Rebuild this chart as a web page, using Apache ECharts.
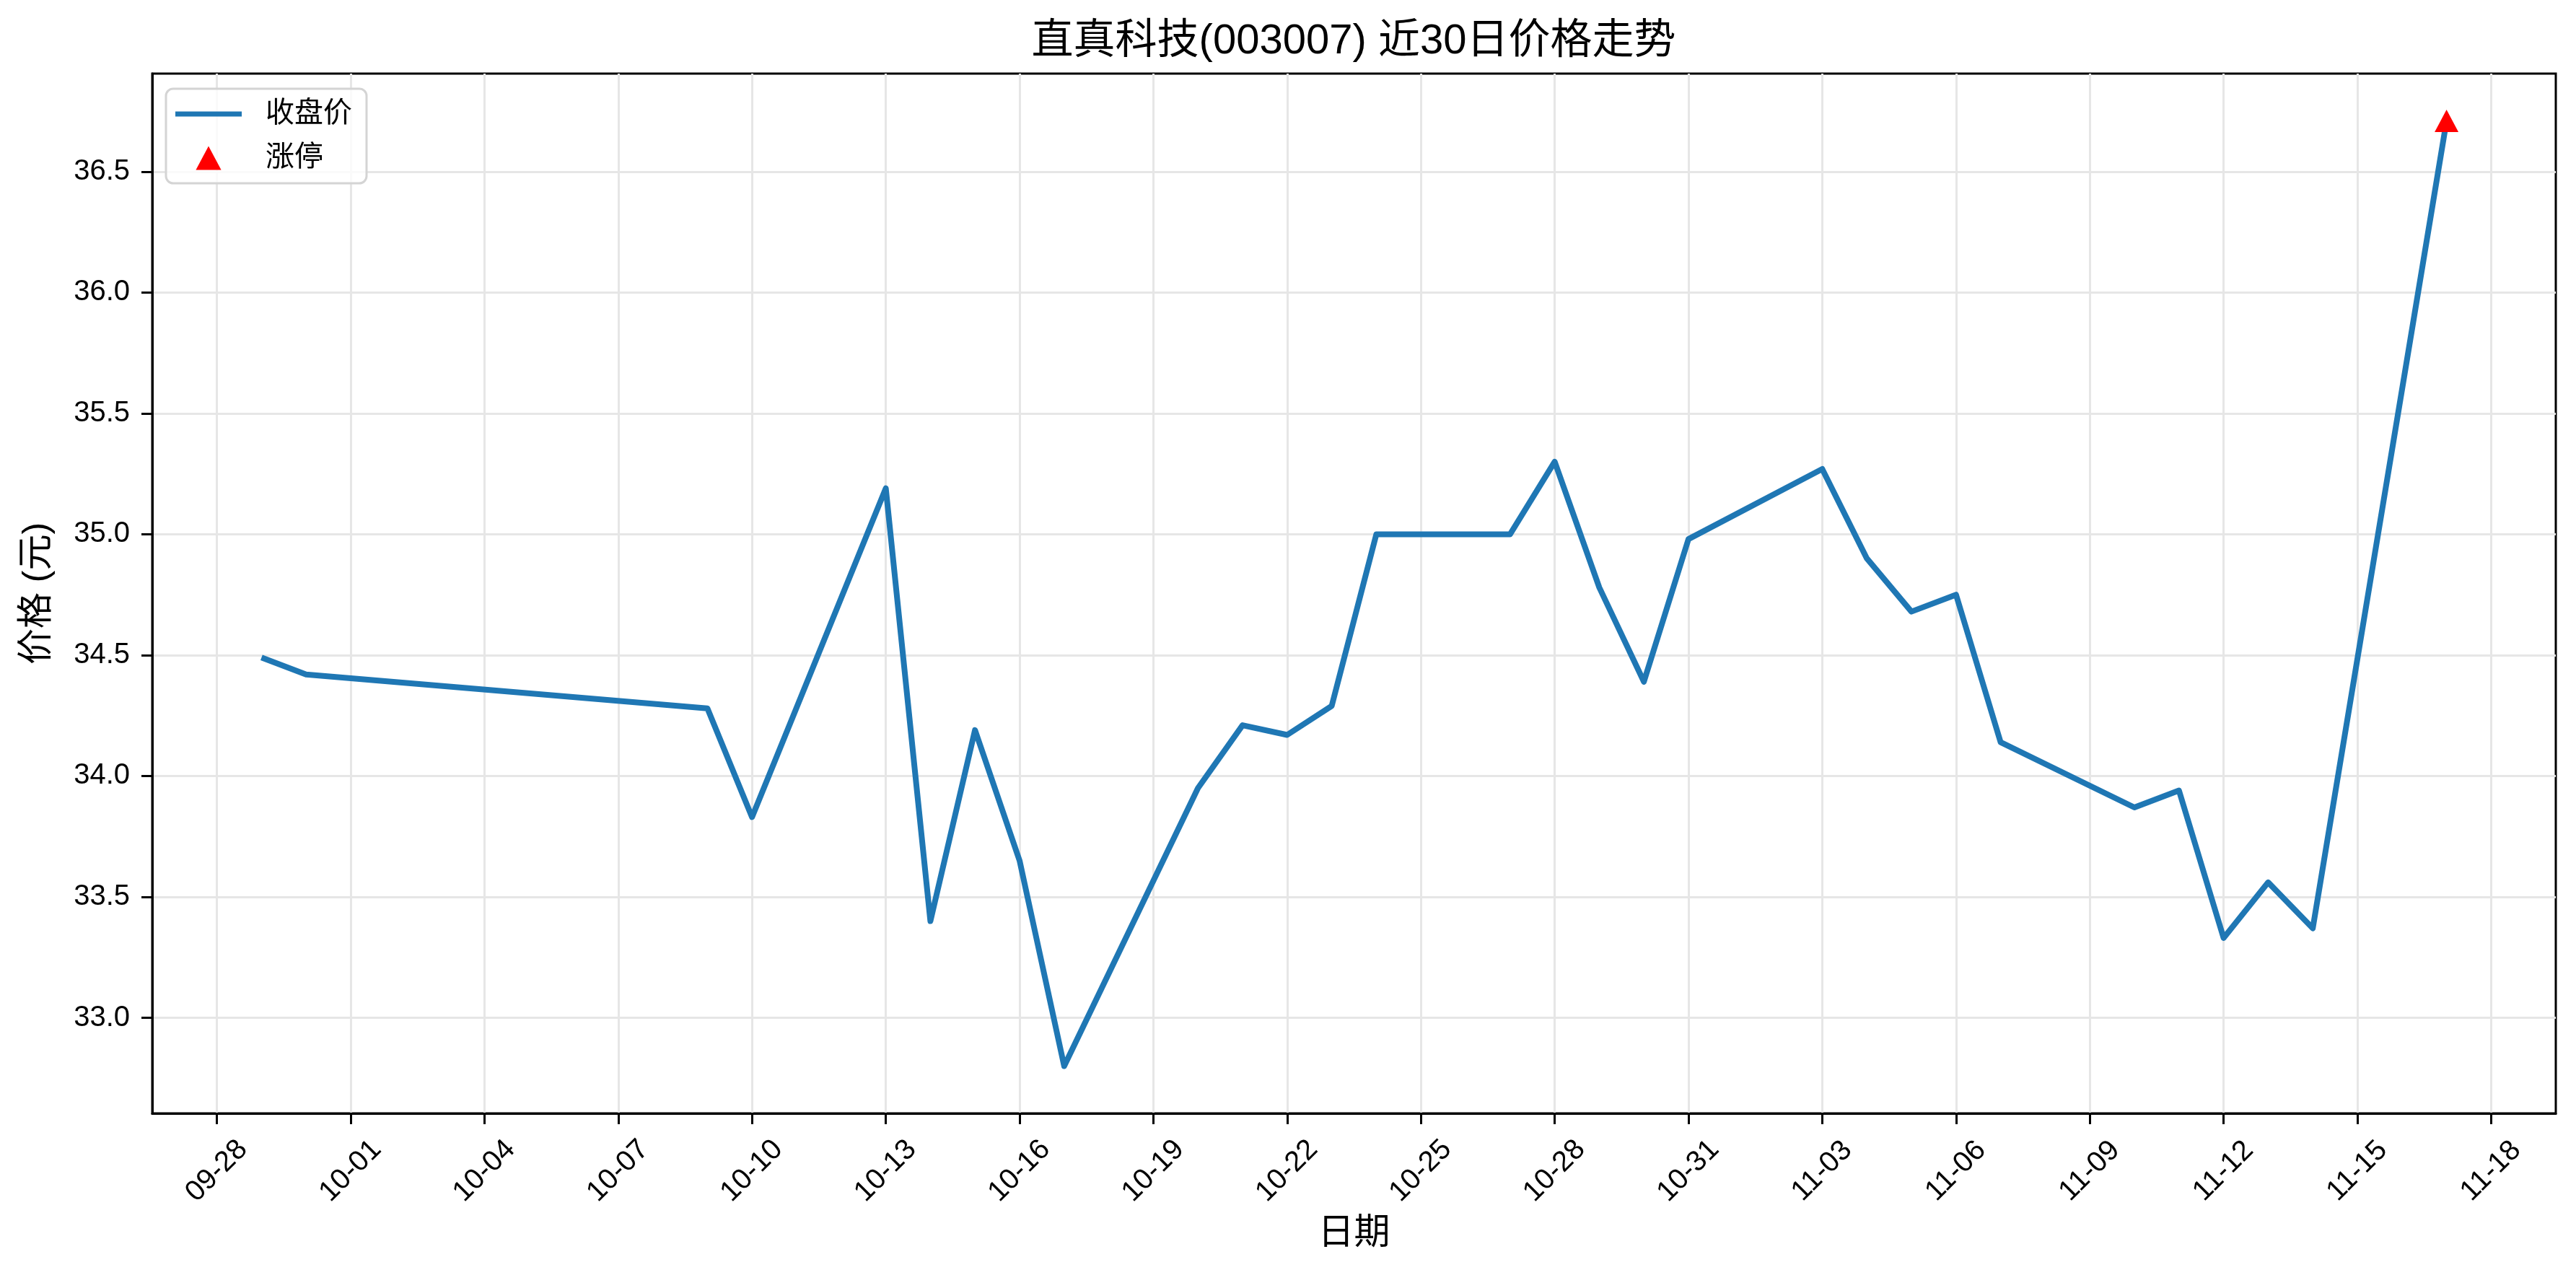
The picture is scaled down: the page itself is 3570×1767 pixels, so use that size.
<!DOCTYPE html>
<html>
<head>
<meta charset="utf-8">
<script src="https://cdn.jsdelivr.net/npm/echarts@6/dist/echarts.min.js"></script>
<style>
html,body{margin:0;padding:0;background:#fff;}
#c{width:3570px;height:1767px;}
</style>
</head>
<body>
<div id="c"></div>
<script>
const year = 2025;
const titleText = '直真科技(003007) 近30日价格走势';
const dates = ['09-29','09-30','10-09','10-10','10-13','10-14','10-15','10-16','10-17','10-20',
               '10-21','10-22','10-23','10-24','10-27','10-28','10-29','10-30','10-31','11-03',
               '11-04','11-05','11-06','11-07','11-10','11-11','11-12','11-13','11-14','11-17'];
const closes = [34.49,34.42,34.28,33.83,35.19,33.40,34.19,33.65,32.80,33.95,
                34.21,34.17,34.29,35.00,35.00,35.30,34.78,34.39,34.98,35.27,
                34.90,34.68,34.75,34.14,33.87,33.94,33.33,33.56,33.37,36.71];
const limitUpDates = ['11-17'];
const limitUpPrices = [36.71];
const xTickLabels = ['09-28','10-01','10-04','10-07','10-10','10-13','10-16','10-19','10-22',
                     '10-25','10-28','10-31','11-03','11-06','11-09','11-12','11-15','11-18'];
const yTickValues = [33.0,33.5,34.0,34.5,35.0,35.5,36.0,36.5];

const FONT = "'Liberation Sans','Noto Sans CJK SC',sans-serif";
const base = Date.UTC(year, 8, 28);
function dayOffset(md) {
  const p = md.split('-').map(Number);
  return (Date.UTC(year, p[0] - 1, p[1]) - base) / 86400000;
}
const xTickValues = xTickLabels.map(dayOffset);
const labelByOffset = {};
xTickLabels.forEach(function (l) { labelByOffset[dayOffset(l)] = l; });

const lineData = dates.map(function (d, i) { return [dayOffset(d), closes[i]]; });
const upData = limitUpDates.map(function (d, i) { return [dayOffset(d), limitUpPrices[i]]; });

function padMin(v) { return v.min - 0.05 * (v.max - v.min); }
function padMax(v) { return v.max + 0.05 * (v.max - v.min); }

const chart = echarts.init(document.getElementById('c'), null, {renderer: 'canvas'});
chart.setOption({
  animation: false,
  backgroundColor: '#fff',
  textStyle: {fontFamily: FONT, color: '#000'},
  title: {
    text: titleText,
    left: 1876,
    top: 28,
    textAlign: 'center',
    padding: 0,
    textStyle: {fontFamily: FONT, fontSize: 58, fontWeight: 'normal', color: '#000', lineHeight: 60}
  },
  grid: {
    left: 211, right: 28, top: 102, bottom: 224,
    show: true, borderColor: '#000', borderWidth: 3, backgroundColor: 'transparent'
  },
  legend: {
    orient: 'vertical',
    left: 230, top: 123,
    padding: [13, 20, 13, 13],
    itemWidth: 92, itemHeight: 33, itemGap: 17,
    borderColor: '#d4d4d4', borderWidth: 3, borderRadius: 10,
    backgroundColor: 'rgba(255,255,255,0.8)',
    textStyle: {fontFamily: FONT, fontSize: 40, color: '#000', padding: [0, 0, 0, 28], lineHeight: 44},
    data: [
      {name: '收盘价', icon: 'path://M0,0H92V7H0Z'},
      {name: '涨停', icon: 'path://M16.5,0L33,31H0Z', itemStyle: {color: '#ff0000', opacity: 1}}
    ]
  },
  xAxis: {
    type: 'value',
    min: padMin, max: padMax,
    name: '日期', nameLocation: 'middle', nameGap: 142,
    nameTextStyle: {fontFamily: FONT, fontSize: 50, color: '#000'},
    axisLine: {show: true, onZero: false, lineStyle: {color: '#000', width: 3}},
    axisTick: {show: true, customValues: xTickValues, length: 15, lineStyle: {color: '#000', width: 3}},
    axisLabel: {
      customValues: xTickValues, rotate: 45, align: 'center', verticalAlign: 'middle',
      margin: 80, fontSize: 40, color: '#000', fontFamily: FONT,
      formatter: function (v) { return labelByOffset[v] || ''; }
    },
    splitLine: {show: true, customValues: xTickValues, lineStyle: {color: '#e6e6e6', width: 3}}
  },
  yAxis: {
    type: 'value',
    min: padMin, max: padMax,
    name: '价格 (元)', nameLocation: 'middle', nameGap: 134,
    nameTextStyle: {fontFamily: FONT, fontSize: 50, color: '#000'},
    axisLine: {show: true, onZero: false, lineStyle: {color: '#000', width: 3}},
    axisTick: {show: true, customValues: yTickValues, length: 15, lineStyle: {color: '#000', width: 3}},
    axisLabel: {
      customValues: yTickValues, margin: 31, fontSize: 40, color: '#000', fontFamily: FONT,
      formatter: function (v) { return v.toFixed(1); }
    },
    splitLine: {show: true, customValues: yTickValues, lineStyle: {color: '#e6e6e6', width: 3}}
  },
  series: [
    {
      name: '收盘价', type: 'line', data: lineData,
      showSymbol: false, symbol: 'none',
      lineStyle: {color: '#1f77b4', width: 8, join: 'round'},
      itemStyle: {color: '#1f77b4'},
      z: 2
    },
    {
      name: '涨停', type: 'scatter', data: upData,
      symbol: 'triangle', symbolSize: [33, 31],
      itemStyle: {color: '#ff0000', opacity: 1},
      z: 3
    }
  ]
});
</script>
</body>
</html>
